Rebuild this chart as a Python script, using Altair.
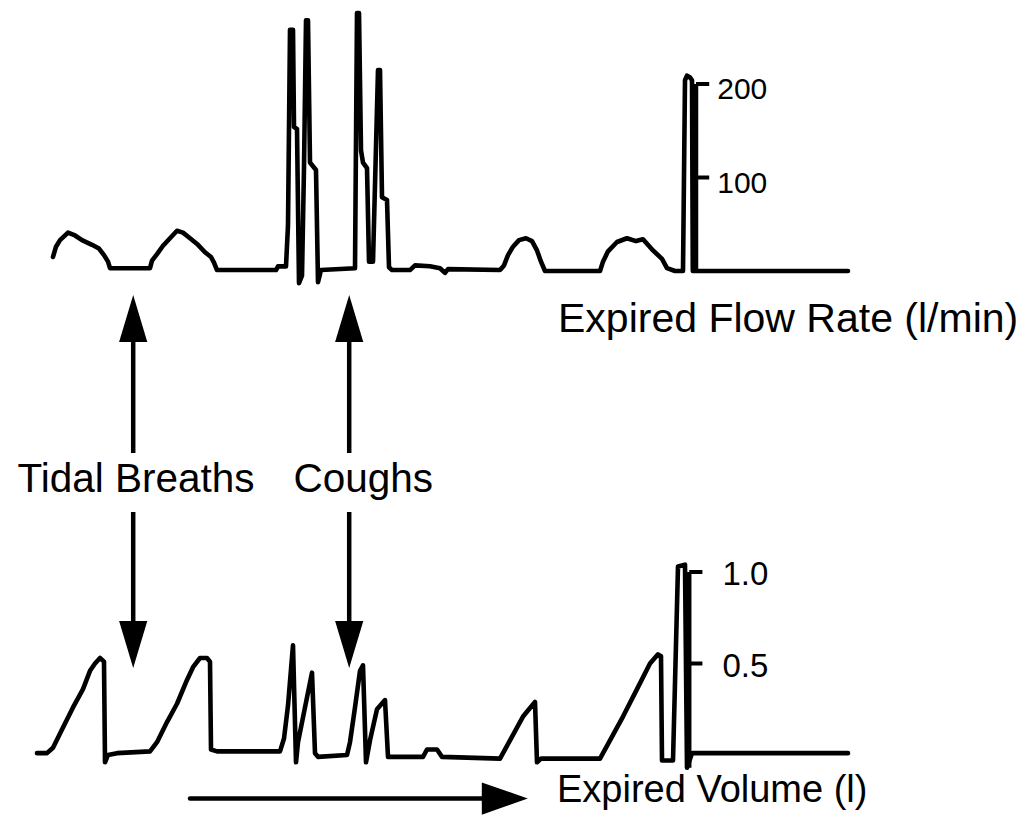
import altair as alt
import pandas as pd

# ---- expired flow trace: time (s) against flow rate (l/min) ----
flow_t = [0.425, 0.5, 0.6, 0.8, 0.975, 1.15, 1.4, 1.575, 1.7, 1.8, 1.85,
          2.85, 2.9, 3.025, 3.175, 3.35, 3.525, 3.675, 3.85, 4.05, 4.225, 4.375, 4.45, 4.525,
          6.0, 6.05, 6.25, 6.3, 6.35, 6.425, 6.45, 6.525, 6.575, 6.65, 6.7, 6.75, 6.8, 6.85,
          7.0, 7.05, 7.125, 7.975, 8.025, 8.075, 8.125, 8.175, 8.275, 8.325, 8.425, 8.55,
          8.6, 8.65, 8.775, 8.825, 8.9, 9.35, 9.475, 9.85, 10.1, 10.225, 10.3,
          11.6, 11.7, 11.8, 11.925, 12.075, 12.25, 12.4, 12.525, 12.625, 12.725,
          14.1, 14.175, 14.3, 14.525, 14.775, 15.0, 15.175, 15.425, 15.65, 15.775, 15.975,
          16.175, 16.225, 16.275, 16.35, 16.4, 16.42, 20.3]
flow_lpm = [15, 26, 33, 41, 38, 33, 28, 24, 17, 10, 3,
            3, 11, 18, 27, 35, 43, 41, 35, 28, 20, 15, 9, 1,
            1, 5, 5, 49, 258, 258, 154, 152, -13, -5, 111, 268, 268, 116,
            108, -12, 1, 3, 276, 276, 129, 116, 110, 10, 10, 215,
            215, 79, 76, 4, 1, 1, 6, 5, 3, -2, 2,
            1, 6, 17, 26, 33, 35, 32, 22, 10, 0,
            0, 10, 21, 31, 35, 32, 34, 22, 13, 3, 0,
            0, 204, 209, 207, 204, 0, 0]

# ---- expired volume trace: time (s) against volume (l) ----
vol_t = [0.025, 0.275, 0.425, 0.675, 0.925, 1.175, 1.35, 1.475, 1.6, 1.7, 1.725, 1.8, 2.025,
         2.85, 3.025, 3.275, 3.525, 3.775, 3.925, 4.1, 4.275, 4.35, 4.375, 4.525,
         6.1, 6.2, 6.3, 6.425, 6.5, 6.55, 6.725, 6.9, 6.975, 7.05,
         7.775, 7.85, 7.975, 8.1, 8.175, 8.25, 8.35, 8.525, 8.725, 8.8,
         9.675, 9.775, 10.025, 10.15, 11.6, 11.85, 12.175, 12.475, 12.525, 12.625,
         14.1, 14.35, 14.675, 15.025, 15.35, 15.55, 15.625, 15.65, 15.925,
         16.05, 16.225, 16.275, 16.4, 20.3]
vol_l = [0.01, 0.01, 0.04, 0.15, 0.26, 0.36, 0.46, 0.50, 0.53, 0.51, -0.04, 0.0, 0.01,
         0.02, 0.07, 0.18, 0.28, 0.41, 0.48, 0.53, 0.53, 0.51, 0.03, 0.02,
         0.02, 0.09, 0.27, 0.60, -0.04, 0.07, 0.26, 0.45, 0.01, -0.01,
         0.0, 0.07, 0.26, 0.46, 0.49, -0.04, 0.08, 0.25, 0.30, -0.01,
         -0.01, 0.03, 0.03, -0.01, -0.02, 0.08, 0.21, 0.29, -0.04, -0.02,
         -0.02, 0.08, 0.21, 0.36, 0.50, 0.55, 0.54, -0.03, -0.03,
         1.03, 1.04, -0.07, 0.01, 0.01]

# ---- calibration scales ----
flow_ticks = [100, 200]
flow_tick_text = ["100", "200"]
vol_ticks = [0.5, 1.0]
vol_tick_text = ["0.5", "1.0"]
flow_axis_t = 16.5
vol_axis_t = 16.33
tick_len = 0.33

# ---- annotations (x in s, y in % of page height from the top) ----
arrow_t = [2.43, 7.83]
arrow_labels = ["Tidal Breaths", "Coughs"]
arrow_label_t = [2.5, 8.18]
arrow_label_y = 60.07
up_head_y, up_tail_y = 38.9, 55.3
down_tail_y, down_head_y = 62.5, 78.7
time_arrow_t = [3.85, 11.72]
time_arrow_y = 97.5

flow_title = "Expired Flow Rate (l/min)"
flow_title_pos = (13.05, 40.54)
vol_title = "Expired Volume (l)"
vol_title_pos = (13.025, 97.92)

W, H = 1026, 819
FONT = "Liberation Sans"
INK = "black"

x_scale = alt.Scale(domain=[-0.9, 24.75], nice=False, zero=False)
flow_scale = alt.Scale(domain=[0, 200], range=[271, 84], nice=False, zero=False)
vol_scale = alt.Scale(domain=[0, 1], range=[755, 572], nice=False, zero=False)
page_scale = alt.Scale(domain=[0, 100], range=[0, H], nice=False, zero=False)


def X(field):
    return alt.X(f"{field}:Q", scale=x_scale, axis=None)


def Y(field, scale):
    return alt.Y(f"{field}:Q", scale=scale, axis=None)


line_style = dict(color=INK, strokeWidth=4.6, strokeJoin="round", strokeCap="round")

flow_df = pd.DataFrame({"t": flow_t, "v": flow_lpm, "i": range(len(flow_t))})
vol_df = pd.DataFrame({"t": vol_t, "v": vol_l, "i": range(len(vol_t))})

flow_line = alt.Chart(flow_df).mark_line(**line_style).encode(
    x=X("t"), y=Y("v", flow_scale), order="i:Q")
vol_line = alt.Chart(vol_df).mark_line(**line_style).encode(
    x=X("t"), y=Y("v", vol_scale), order="i:Q")


def scale_bar(axis_t, lo, hi, ticks, texts, scale, font_size, gap, dy):
    bar = alt.Chart(pd.DataFrame({"t": [axis_t], "lo": [lo], "hi": [hi]})).mark_rule(
        color=INK, strokeWidth=4.5).encode(x=X("t"), y=Y("lo", scale), y2="hi:Q")
    tdf = pd.DataFrame({"t": [axis_t] * len(ticks),
                        "t2": [axis_t + tick_len] * len(ticks),
                        "tl": [axis_t + tick_len + gap] * len(ticks),
                        "v": ticks, "txt": texts})
    tick = alt.Chart(tdf).mark_rule(color=INK, strokeWidth=4).encode(
        x=X("t"), x2="t2:Q", y=Y("v", scale))
    lab = alt.Chart(tdf).mark_text(
        align="left", baseline="middle", font=FONT, fontSize=font_size, dy=dy, color=INK
    ).encode(x=X("tl"), y=Y("v", scale), text="txt:N")
    return [bar, tick, lab]


flow_bar = scale_bar(flow_axis_t, -1, 200, flow_ticks, flow_tick_text, flow_scale, 30, 0.2, 6)
vol_bar = scale_bar(vol_axis_t, -0.07, 1.0, vol_ticks, vol_tick_text, vol_scale, 33, 0.5, 3)

# vertical arrows: up towards the flow trace, down towards the volume trace
shaft_df = pd.DataFrame({
    "t": arrow_t * 2,
    "y1": [up_head_y] * 2 + [down_tail_y] * 2,
    "y2": [up_tail_y] * 2 + [down_head_y] * 2,
})
shafts = alt.Chart(shaft_df).mark_rule(color=INK, strokeWidth=4.5).encode(
    x=X("t"), y=Y("y1", page_scale), y2="y2:Q")

up_df = pd.DataFrame({"t": arrow_t, "y": [up_head_y] * 2})
down_df = pd.DataFrame({"t": arrow_t, "y": [down_head_y] * 2})
head_style = dict(filled=True, color=INK, opacity=1, strokeWidth=0, size=2209)
up_heads = alt.Chart(up_df).mark_point(shape="M0,-1L0.6,1L-0.6,1Z", **head_style).encode(
    x=X("t"), y=Y("y", page_scale))
down_heads = alt.Chart(down_df).mark_point(shape="M0,1L0.6,-1L-0.6,-1Z", **head_style).encode(
    x=X("t"), y=Y("y", page_scale))

time_shaft = alt.Chart(pd.DataFrame({"t": [time_arrow_t[0]], "t2": [time_arrow_t[1]],
                                     "y": [time_arrow_y]})).mark_rule(
    color=INK, strokeWidth=4.5, strokeCap="round").encode(x=X("t"), x2="t2:Q", y=Y("y", page_scale))
time_head = alt.Chart(pd.DataFrame({"t": [time_arrow_t[1]], "y": [time_arrow_y]})).mark_point(
    shape="M1,0L-1,0.7L-1,-0.7Z", filled=True, color=INK, opacity=1, strokeWidth=0, size=2116
).encode(x=X("t"), y=Y("y", page_scale))

arrow_text = alt.Chart(pd.DataFrame({"t": arrow_label_t, "y": [arrow_label_y] * 2,
                                     "txt": arrow_labels})).mark_text(
    align="center", baseline="alphabetic", font=FONT, fontSize=40.5, color=INK
).encode(x=X("t"), y=Y("y", page_scale), text="txt:N")

flow_title_text = alt.Chart(pd.DataFrame({"t": [flow_title_pos[0]], "y": [flow_title_pos[1]],
                                          "txt": [flow_title]})).mark_text(
    align="left", baseline="alphabetic", font=FONT, fontSize=41, color=INK
).encode(x=X("t"), y=Y("y", page_scale), text="txt:N")

vol_title_text = alt.Chart(pd.DataFrame({"t": [vol_title_pos[0]], "y": [vol_title_pos[1]],
                                         "txt": [vol_title]})).mark_text(
    align="left", baseline="alphabetic", font=FONT, fontSize=38, color=INK
).encode(x=X("t"), y=Y("y", page_scale), text="txt:N")

chart = alt.layer(
    flow_line, vol_line, *flow_bar, *vol_bar,
    shafts, up_heads, down_heads, time_shaft, time_head,
    arrow_text, flow_title_text, vol_title_text,
).resolve_scale(y="independent").properties(
    width=W, height=H, padding=0, background="white",
    autosize=alt.AutoSizeParams(type="none"),
).configure_view(stroke=None)

chart.save("out.html", embed_options={"renderer": "svg", "actions": False})
